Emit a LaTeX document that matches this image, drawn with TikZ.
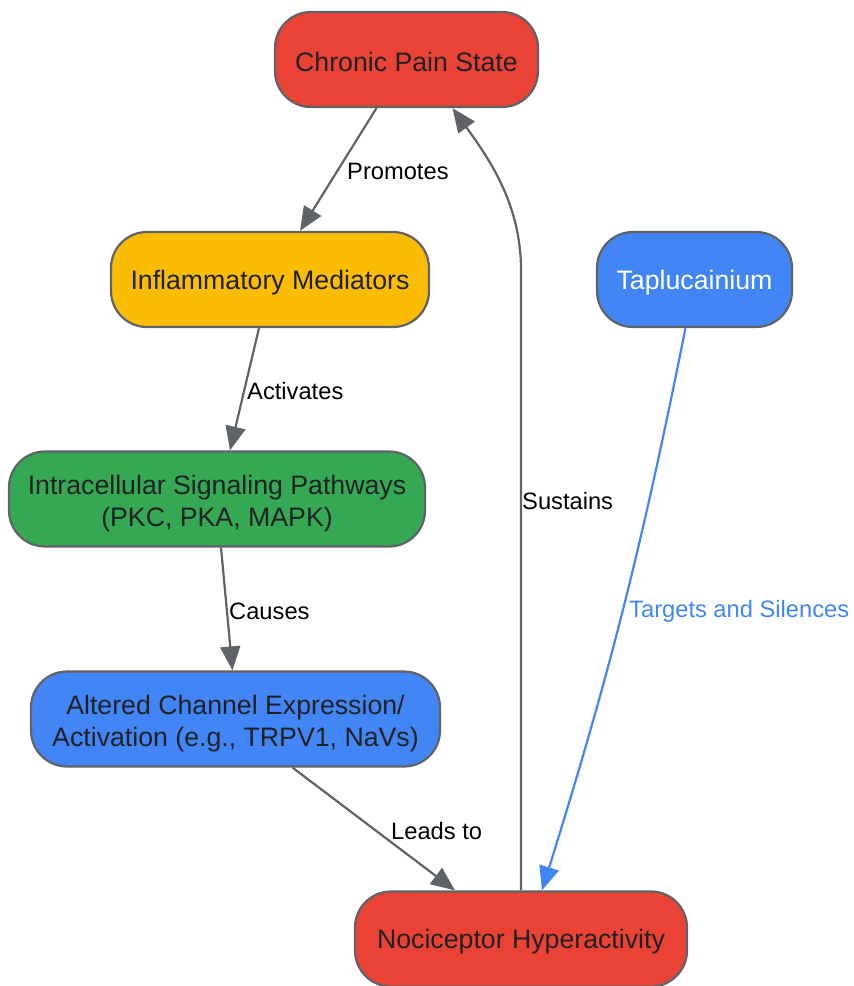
\documentclass[tikz,border=0pt]{standalone}
\usepackage{fontspec}
\setmainfont{Liberation Sans}
\usetikzlibrary{arrows.meta,calc}
\definecolor{gred}{HTML}{EA4335}
\definecolor{gyellow}{HTML}{FBBC04}
\definecolor{ggreen}{HTML}{34A853}
\definecolor{gblue}{HTML}{4285F4}
\definecolor{gborder}{HTML}{5F6368}
\definecolor{gtext}{HTML}{202124}
\newcommand{\tstrut}[1]{\rule{0pt}{#1}}
\tikzset{
  box/.style={draw=gborder, line width=2.2pt, rounded corners=36pt, inner sep=0pt,
    minimum height=95pt, align=center, text=gtext,
    font=\fontsize{26.7}{32}\selectfont},
  conn/.style={draw=gborder, line width=2.2pt, -{Triangle[length=24pt,width=20pt]}},
  bconn/.style={draw=gblue, line width=2.2pt, -{Triangle[length=24pt,width=20pt]}},
  lbl/.style={font=\fontsize{23.7}{28}\selectfont, text=black, inner sep=0pt, anchor=west},
}
\begin{document}
\begin{tikzpicture}[x=1pt,y=-1pt]
\useasboundingbox (0,0) rectangle (854,986);
\node[box, fill=gred, minimum width=263pt] (chronic) at (406.5,59.5) {\tstrut{25pt}Chronic Pain State};
\node[box, fill=gyellow, minimum width=318pt] (infl) at (270,279.5) {\tstrut{25pt}Inflammatory Mediators};
\node[box, fill=gblue, minimum width=195pt, text=white] (tap) at (694.5,279.5) {\tstrut{25pt}Taplucainium};
\node[box, fill=ggreen, minimum width=416pt] (intra) at (217,499) {\tstrut{28pt}Intracellular Signaling Pathways\\(PKC, PKA, MAPK)};
\node[box, fill=gblue, minimum width=409pt] (alt) at (235.5,719) {\tstrut{28pt}Altered Channel Expression/\\Activation (e.g., TRPV1, NaVs)};
\node[box, fill=gred, minimum width=332pt] (noc) at (521,939) {\tstrut{25pt}Nociceptor Hyperactivity};

\coordinate (c1) at ($(chronic.south)+(-30,0)$);
\coordinate (c2) at ($(chronic.south)+(46,0)$);
\coordinate (i1) at ($(infl.north)+(30,0)$);
\coordinate (i2) at ($(infl.south)+(-11,0)$);
\coordinate (p1) at ($(intra.north)+(13,0)$);
\coordinate (p2) at ($(intra.south)+(4,0)$);
\coordinate (a1) at ($(alt.north)+(-3,0)$);
\coordinate (a2) at ($(alt.south)+(57,0)$);
\coordinate (n1) at ($(noc.north)+(-66,0)$);
\coordinate (n2) at ($(noc.north)+(21,0)$);
\coordinate (t1) at ($(tap.south)+(-9,0)$);
\coordinate (s1) at (521,270);

\draw[conn] (c1) -- (i1);
\draw[conn] (i2) -- (p1);
\draw[conn] (p2) -- (a1);
\draw[conn] (a2) -- (n1);
\draw[conn] (noc.north) -- (s1) .. controls (521,205) and (490,160) .. (c2);
\draw[bconn] (t1) to[bend left=3] (n2);

\node[lbl] (l1) at (347,171) {Promotes};
\node[lbl] (l2) at (247,391) {Activates};
\node[lbl] (l3) at (229,611) {Causes};
\node[lbl] (l4) at (391,831) {Leads to};
\node[lbl] (l5) at (522,501) {Sustains};
\node[lbl, text=gblue] (l6) at (629,611) {Targets and Silences};
\end{tikzpicture}
\end{document}
